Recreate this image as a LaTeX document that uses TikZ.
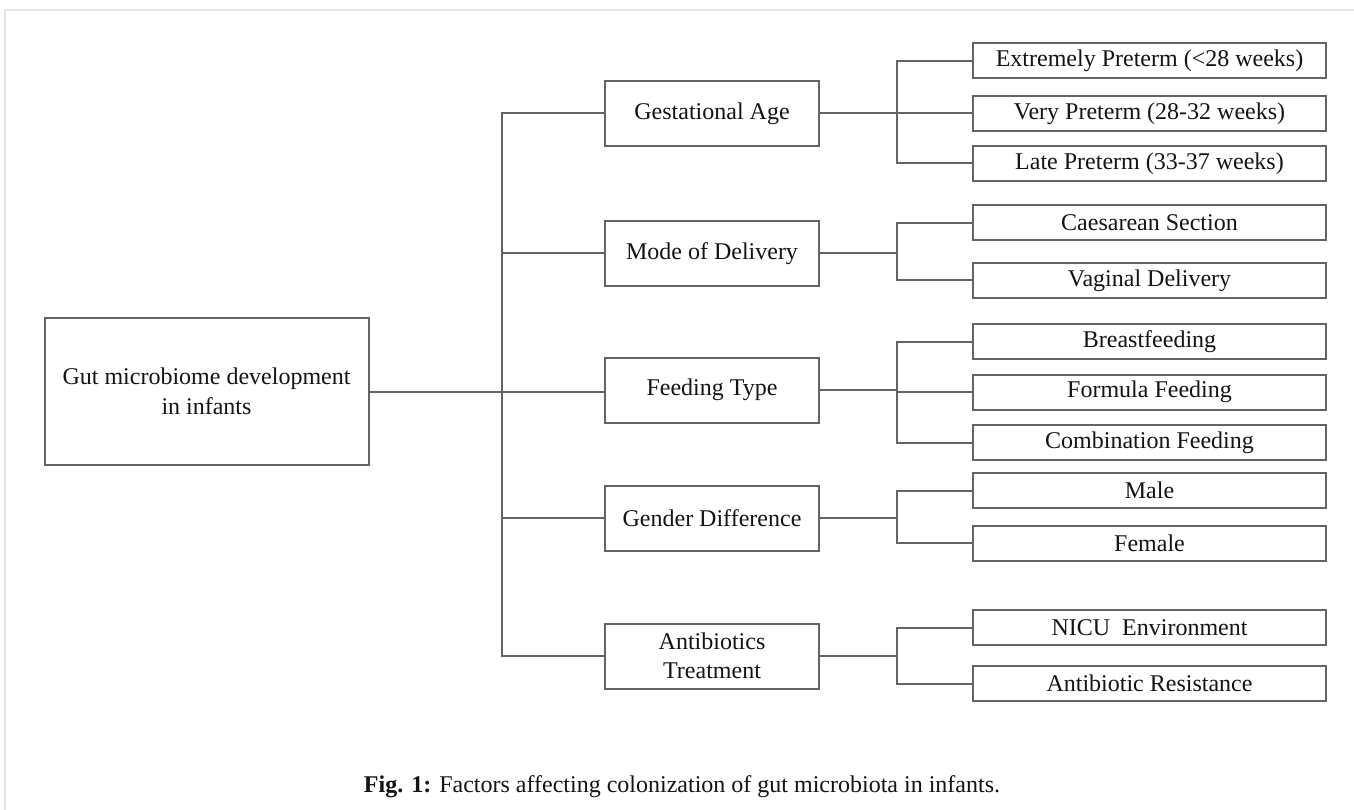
\documentclass[tikz,border=0pt]{standalone}
\usepackage{fontspec}
\setmainfont{Liberation Serif}
\definecolor{linecol}{RGB}{100,100,100}
\definecolor{textcol}{RGB}{20,20,20}
\definecolor{framecol}{RGB}{228,228,228}
\tikzset{
  box/.style={draw=linecol, line width=2pt, fill=white, inner sep=0pt, align=center,
    text=textcol, font=\fontsize{24}{30}\selectfont},
  mainbox/.style={box, minimum width=324pt, minimum height=147pt},
  midbox/.style={box, minimum width=214pt, minimum height=65pt},
  leafbox/.style={box, minimum width=353pt, minimum height=35pt},
  conn/.style={draw=linecol, line width=2pt},
}
\begin{document}
\begin{tikzpicture}[x=1pt,y=-1pt]
\useasboundingbox (0,0) rectangle (1354,810);
\fill[white] (0,0) rectangle (1354,810);
\draw[framecol, line width=1.5pt] (5,810) -- (5,10) -- (1354,10);

% main node
\node[mainbox] (main) at (206.5,391.5) {Gut microbiome development\\in infants};

% level 2
\node[midbox] (ga) at (712,113.5) {Gestational Age};
\node[midbox] (md) at (712,253.5) {Mode of Delivery};
\node[midbox] (ft) at (712,390) {Feeding Type};
\node[midbox] (gd) at (712,518) {Gender Difference};
\node[midbox] (ab) at (712,656) {Antibiotics\\[-1pt]Treatment};

% leaves
\node[leafbox] (ep) at (1149.5,61) {Extremely Preterm (<28 weeks)};
\node[leafbox] (vp) at (1149.5,113.5) {Very Preterm (28-32 weeks)};
\node[leafbox] (lp) at (1149.5,163.5) {Late Preterm (33-37 weeks)};
\node[leafbox] (cs) at (1149.5,223) {Caesarean Section};
\node[leafbox] (vd) at (1149.5,280.5) {Vaginal Delivery};
\node[leafbox] (bf) at (1149.5,341.5) {Breastfeeding};
\node[leafbox] (ff) at (1149.5,392) {Formula Feeding};
\node[leafbox] (cf) at (1149.5,442.5) {Combination Feeding};
\node[leafbox] (ml) at (1149.5,490.5) {Male};
\node[leafbox] (fm) at (1149.5,543) {Female};
\node[leafbox] (ni) at (1149.5,627.5) {NICU\ \ Environment};
\node[leafbox] (ar) at (1149.5,683.5) {Antibiotic Resistance};

% trunk coordinates
\coordinate (tx) at (502,0);
\coordinate (sx) at (897,0);

% main trunk
\draw[conn] (main.east) -- (main.east -| ft.west);
\draw[conn] (ga.west) -- (ga.west -| tx) -- (ab.west -| tx) -- (ab.west);
\draw[conn] (md.west) -- (md.west -| tx);
\draw[conn] (gd.west) -- (gd.west -| tx);

% gestational
\draw[conn] (ga.east) -- (vp.west);
\draw[conn] (ep.west) -- (ep.west -| sx) -- (lp.west -| sx) -- (lp.west);
% mode
\draw[conn] (md.east) -- (md.east -| sx);
\draw[conn] (cs.west) -- (cs.west -| sx) -- (vd.west -| sx) -- (vd.west);
% feeding
\draw[conn] (ft.east) -- (ft.east -| sx);
\draw[conn] (ff.west) -- (ff.west -| sx);
\draw[conn] (bf.west) -- (bf.west -| sx) -- (cf.west -| sx) -- (cf.west);
% gender
\draw[conn] (gd.east) -- (gd.east -| sx);
\draw[conn] (ml.west) -- (ml.west -| sx) -- (fm.west -| sx) -- (fm.west);
% antibiotics
\draw[conn] (ab.east) -- (ab.east -| sx);
\draw[conn] (ni.west) -- (ni.west -| sx) -- (ar.west -| sx) -- (ar.west);

% caption
\node[text=textcol, font=\fontsize{24}{28}\selectfont, inner sep=0pt] (cap) at (682,787)
  {\textbf{Fig. 1:} Factors affecting colonization of gut microbiota in infants.};
\end{tikzpicture}
\end{document}
